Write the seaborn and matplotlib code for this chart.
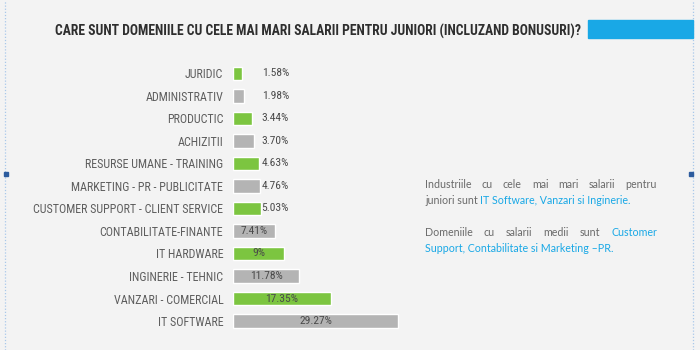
import matplotlib
matplotlib.use("Agg")
import matplotlib.pyplot as plt
import seaborn as sns
import pandas as pd
from matplotlib.patches import Rectangle
from matplotlib.lines import Line2D
from matplotlib import font_manager

# ---------------- data ----------------
categories = ["JURIDIC", "ADMINISTRATIV", "PRODUCTIC", "ACHIZITII",
              "RESURSE UMANE - TRAINING", "MARKETING - PR - PUBLICITATE",
              "CUSTOMER SUPPORT - CLIENT SERVICE", "CONTABILITATE-FINANTE",
              "IT HARDWARE", "INGINERIE - TEHNIC", "VANZARI - COMERCIAL",
              "IT SOFTWARE"]
values = [1.58, 1.98, 3.44, 3.70, 4.63, 4.76, 5.03, 7.41, 9, 11.78, 17.35, 29.27]
value_labels = ["1.58%", "1.98%", "3.44%", "3.70%", "4.63%", "4.76%", "5.03%",
                "7.41%", "9%", "11.78%", "17.35%", "29.27%"]
title = "CARE SUNT DOMENIILE CU CELE MAI MARI SALARII PENTRU JUNIORI (INCLUZAND BONUSURI)?"
note_lines = [
    [("Industriile cu cele mai mari salarii pentru", "grey")],
    [("juniori sunt ", "grey"), ("IT Software, Vanzari si Inginerie.", "blue")],
    [("Domeniile cu salarii medii sunt", "grey"), ("Customer", "blue")],
    [("Support, Contabilitate si Marketing \u2013PR.", "blue")],
]

# ---------------- style ----------------
BG = "#f3f3f3"
GREEN = "#7cc540"
GREY = "#b4b4b4"
BLUE = "#19a8e6"
TXT = "#5e5e5e"

sns.set_theme(style="white")

installed = {f.name for f in font_manager.fontManager.ttflist}
def pick(cands):
    fams = [c for c in cands if c in installed]
    return fams + ["DejaVu Sans"]

NARROW = pick(["Roboto Condensed", "Liberation Sans Narrow", "Roboto", "Liberation Sans"])
BODY = pick(["Lato", "Open Sans"])
plt.rcParams["font.family"] = NARROW

W, H = 700, 350
fig = plt.figure(figsize=(7, 3.5), dpi=100, facecolor=BG)
renderer = fig.canvas.get_renderer()

def fit(t, target_px):
    for _ in range(3):
        w = t.get_window_extent(renderer).width
        t.set_fontsize(t.get_fontsize() * target_px / w)
    return t.get_fontsize()

px_per_pct = 5.64
ax_left, ax_w = 233, 180
ax_top, ax_bot = 62, 332.3
ax = fig.add_axes([ax_left / W, 1 - ax_bot / H, ax_w / W, (ax_bot - ax_top) / H])
ax.set_facecolor(BG)

df = pd.DataFrame({"cat": categories, "val": values})
palette = [GREEN if i % 2 == 0 else GREY for i in range(len(categories))]
sns.barplot(data=df, x="val", y="cat", hue="cat", palette=palette, legend=False,
            width=0.6, saturation=1, ax=ax, orient="h")

ax.set_xlim(0, ax_w / px_per_pct)
ax.set_ylim(len(categories) - 0.5, -0.5)
ax.set_xlabel("")
ax.set_ylabel("")
ax.set_xticks([])
for s in ax.spines.values():
    s.set_visible(False)
ax.tick_params(axis="y", length=0, pad=7)

# size category labels so the longest spans ~190 px
probe = fig.text(0, 0, "CUSTOMER SUPPORT - CLIENT SERVICE", fontsize=8, family=NARROW)
cat_size = fit(probe, 190)
probe.remove()
for lab in ax.get_yticklabels():
    lab.set_fontsize(cat_size)
    lab.set_color(TXT)
    lab.set_family(NARROW)

probe = fig.text(0, 0, "29.27%", fontsize=7, family=NARROW)
val_size = fit(probe, 33)
probe.remove()
for i, (v, lab) in enumerate(zip(values, value_labels)):
    xc = v / 2 if v >= 7 else 7.5
    ax.text(xc, i, lab, ha="center", va="center", fontsize=val_size,
            color="#4a4a4a", family=NARROW)

# title + blue bar
tt = fig.text(55 / W, 1 - 31 / H, title, ha="left", va="center", fontsize=10,
              fontweight="heavy", color="#2e2e2e", family=NARROW)
fit(tt, 525)
fig.patches.append(Rectangle((588 / W, 1 - 38 / H), 105 / W, 18 / H,
                             transform=fig.transFigure, color=BLUE, zorder=3))

# dotted frame lines and handles
for x in (5, 693):
    fig.add_artist(Line2D([x / W, x / W], [0, 1], transform=fig.transFigure,
                          color="#a9c8ea", lw=0.9, ls=(0, (1, 1.5))))
for x in (6, 691):
    fig.patches.append(Rectangle(((x - 2) / W, 1 - 176 / H), 4 / W, 4 / H,
                                 transform=fig.transFigure, color="#2d5c9e", zorder=4))

# note text with mixed colours (lines 1 and 3 justified)
cmap = {"grey": "#6a6a6a", "blue": BLUE}
probe = fig.text(0, 0, "Support, Contabilitate si Marketing \u2013PR.", fontsize=8, family=BODY)
note_size = fit(probe, 188)
probe.remove()
ys = [184, 200.5, 232.5, 248.5]
justify = [True, False, True, False]
x0, x1 = 425, 657
for y, segs, jus in zip(ys, note_lines, justify):
    if jus:
        words = [(w, c) for s, c in segs for w in s.split()]
        arts = [fig.text(0, 1 - y / H, w, ha="left", va="center", fontsize=note_size,
                         color=cmap[c], family=BODY) for w, c in words]
        widths = [a.get_window_extent(renderer).width for a in arts]
        gap = (x1 - x0 - sum(widths)) / (len(arts) - 1)
        x = x0
        for a, wd in zip(arts, widths):
            a.set_x(x / W)
            x += wd + gap
    else:
        x = x0 / W
        for s, c in segs:
            t = fig.text(x, 1 - y / H, s, ha="left", va="center", fontsize=note_size,
                         color=cmap[c], family=BODY)
            x = t.get_window_extent(renderer).x1 / W

fig.savefig("out.png", dpi=100, facecolor=BG)
